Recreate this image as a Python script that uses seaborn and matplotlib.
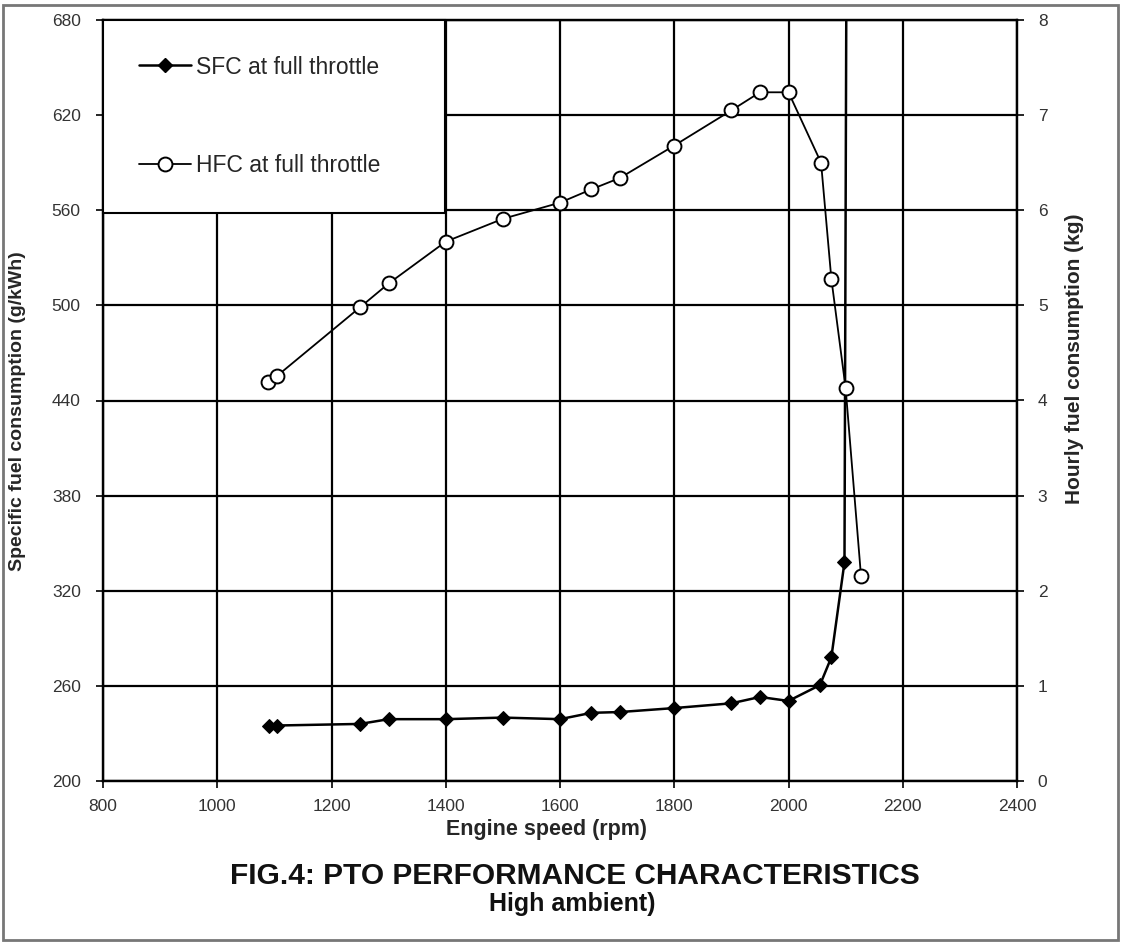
import matplotlib
matplotlib.use('Agg')
import matplotlib.pyplot as plt
import seaborn as sns
import pandas as pd
from matplotlib.lines import Line2D
from matplotlib.patches import Rectangle

# ---- data ----
rpm_sfc = [1090, 1105, 1250, 1300, 1400, 1500, 1600, 1655, 1705, 1800, 1900, 1950, 2000, 2055, 2075, 2098, 2104]
sfc = [235, 235, 236, 239, 239, 240, 239, 243, 243.5, 246, 249, 253, 250.5, 260.5, 278, 338, 1000]

rpm_hfc = [1088, 1105, 1250, 1300, 1400, 1500, 1600, 1655, 1705, 1800, 1900, 1950, 2000, 2057, 2075, 2100, 2127]
hfc = [4.19, 4.26, 4.98, 5.23, 5.67, 5.91, 6.08, 6.22, 6.34, 6.68, 7.05, 7.24, 7.24, 6.50, 5.28, 4.13, 2.15]

x_ticks = [800, 1000, 1200, 1400, 1600, 1800, 2000, 2200, 2400]
left_ticks = [200, 260, 320, 380, 440, 500, 560, 620, 680]
right_ticks = [0, 1, 2, 3, 4, 5, 6, 7, 8]

series_labels = ["SFC at full throttle", "HFC at full throttle"]
x_label = "Engine speed (rpm)"
left_label = "Specific fuel consumption (g/kWh)"
right_label = "Hourly fuel consumption (kg)"
title_1 = "FIG.4: PTO PERFORMANCE CHARACTERISTICS"
title_2 = "High ambient)"

sns.set_theme(style='white')
plt.rcParams['font.family'] = ['Liberation Sans', 'DejaVu Sans']

W, H = 1121, 943
fig = plt.figure(figsize=(W / 100, H / 100), dpi=100)
ax = fig.add_axes([103 / W, 1 - 781 / H, 914 / W, 761 / H])

sfc_df = pd.DataFrame({'rpm': rpm_sfc, 'sfc': sfc})
hfc_df = pd.DataFrame({'rpm': rpm_hfc, 'hfc': hfc})

sns.lineplot(data=sfc_df, x='rpm', y='sfc', ax=ax, color='black', marker='D',
             markersize=7, markeredgecolor='black', markerfacecolor='black',
             linewidth=1.8, estimator=None, sort=False, zorder=3)
ax.set_xlim(800, 2400)
ax.set_ylim(200, 680)
ax.set_xticks(x_ticks)
ax.set_yticks(left_ticks)
ax.grid(True, color='black', linewidth=1.6)
ax.set_axisbelow(True)

ax2 = ax.twinx()
sns.lineplot(data=hfc_df, x='rpm', y='hfc', ax=ax2, color='black', marker='o',
             markersize=10, markerfacecolor='white', markeredgecolor='black',
             markeredgewidth=1.4, linewidth=1.3, estimator=None, sort=False)
ax2.set_ylim(0, 8)
ax2.set_yticks(right_ticks)
ax2.grid(False)

for a in (ax, ax2):
    for s in a.spines.values():
        s.set_color('black')
        s.set_linewidth(1.6)

ax.tick_params(axis='x', bottom=True, direction='out', length=5, width=1.2,
               color='black', labelsize=12.5, labelcolor='#333333', pad=8)
ax.tick_params(axis='y', left=True, direction='out', length=5, width=1.2,
               color='black', labelsize=12.5, labelcolor='#333333', pad=11)
ax2.tick_params(axis='y', right=True, direction='out', length=5, width=1.2,
                color='black', labelsize=12.5, labelcolor='#333333', pad=10)

ax.set_xlabel(x_label, fontsize=15.5, fontweight='bold')
ax.xaxis.set_label_coords((547 - 103) / 914, (781 - 830) / 761)
ax.xaxis.label.set_va('center')
ax.set_ylabel(left_label, fontsize=14, fontweight='bold')
ax.yaxis.set_label_coords((18 - 103) / 914, (781 - 411) / 761)
ax.yaxis.label.set_va('center')
ax2.set_ylabel(right_label, fontsize=15, fontweight='bold', rotation=90)
ax2.yaxis.set_label_coords((1075 - 103) / 914, (781 - 359) / 761)
ax2.yaxis.label.set_va('center')

handles = [
    Line2D([], [], color='black', marker='D', markersize=7, linewidth=1.8,
           markerfacecolor='black'),
    Line2D([], [], color='black', marker='o', markersize=10, linewidth=1.3,
           markerfacecolor='white', markeredgewidth=1.4),
]
leg = ax2.legend(handles, series_labels, loc='upper left',
                 bbox_to_anchor=(0, 1 - (212 - 20) / 761, (445 - 103) / 914, (212 - 20) / 761),
                 mode='expand', borderaxespad=0, fontsize=16.5, frameon=True,
                 fancybox=False, framealpha=1, edgecolor='black',
                 borderpad=1.55, labelspacing=3.3, handlelength=2.3,
                 handletextpad=0.2)
leg.get_frame().set_linewidth(1.5)
leg.set_zorder(10)

fig.text(575 / W, 1 - 876 / H, title_1, ha='center', va='center',
         fontsize=21.5, fontweight='bold', color='#111111')
fig.text(572 / W, 1 - 904 / H, title_2, ha='center', va='center',
         fontsize=18, fontweight='bold', color='#111111')

fig.add_artist(Rectangle((3 / W, 3 / H), (1118 - 3) / W, (938 - 3) / H,
                         transform=fig.transFigure, fill=False,
                         edgecolor='#777777', linewidth=2))

fig.savefig('out.png', dpi=100)
